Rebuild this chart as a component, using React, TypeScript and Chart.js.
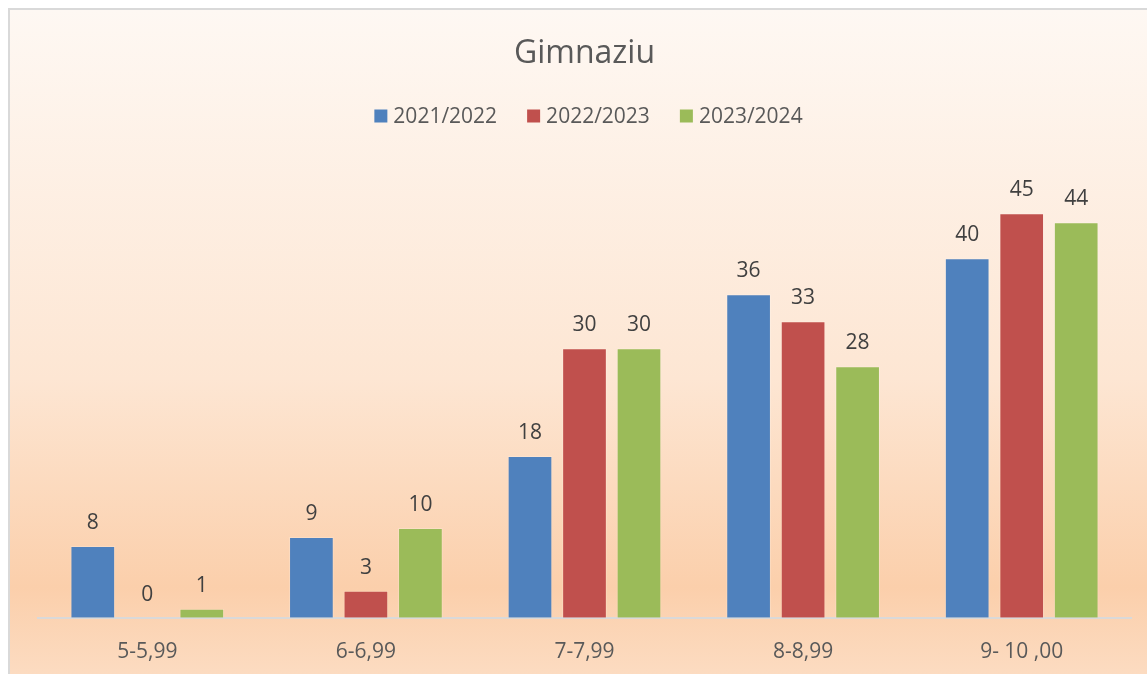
import React, { useEffect, useRef } from "react";
import { Chart, registerables } from "chart.js";

Chart.register(...registerables);

const categories = ["5-5,99", "6-6,99", "7-7,99", "8-8,99", "9- 10 ,00"];
const seriesNames = ["2021/2022", "2022/2023", "2023/2024"];
const values2021 = [8, 9, 18, 36, 40];
const values2022 = [0, 3, 30, 33, 45];
const values2023 = [1, 10, 30, 28, 44];
const seriesColors = ["#4f81bd", "#c0504d", "#9bbb59"];

const W = 1150;
const H = 666;
const FONT = "'Open Sans', 'Noto Sans', sans-serif";

const dataLabels = {
  id: "dataLabels",
  afterDatasetsDraw(chart: any) {
    const ctx = chart.ctx;
    ctx.save();
    ctx.font = `21px ${FONT}`;
    ctx.fillStyle = "#404040";
    ctx.textAlign = "center";
    ctx.textBaseline = "middle";
    chart.data.datasets.forEach((ds: any, i: number) => {
      const meta = chart.getDatasetMeta(i);
      meta.data.forEach((el: any, j: number) => {
        ctx.fillText(String(ds.data[j]), el.x, el.y - 23);
      });
    });
    ctx.restore();
  },
};

const customLegend = {
  id: "customLegend",
  afterDraw(chart: any) {
    const ctx = chart.ctx;
    const area = chart.chartArea;
    ctx.save();
    ctx.font = `21px ${FONT}`;
    ctx.textBaseline = "middle";
    ctx.textAlign = "left";
    const box = 13;
    const gapText = 19;
    const gapItem = 30;
    const widths = chart.data.datasets.map(
      (ds: any) => gapText + ctx.measureText(ds.label).width
    );
    const total =
      widths.reduce((a: number, b: number) => a + b, 0) +
      gapItem * (widths.length - 1);
    let x = (area.left + area.right) / 2 - total / 2 + 4;
    const y = 106;
    chart.data.datasets.forEach((ds: any, i: number) => {
      ctx.fillStyle = ds.backgroundColor;
      ctx.fillRect(x, y - box / 2, box, box);
      ctx.fillStyle = "#595959";
      ctx.fillText(ds.label, x + gapText, y + 1);
      x += widths[i] + gapItem;
    });
    ctx.restore();
  },
};

export default function App() {
  const ref = useRef<HTMLCanvasElement | null>(null);

  useEffect(() => {
    if (!ref.current) return;
    const allSeries = [values2021, values2022, values2023];
    const chart = new Chart(ref.current, {
      type: "bar",
      data: {
        labels: categories,
        datasets: allSeries.map((vals, i) => ({
          label: seriesNames[i],
          data: vals,
          backgroundColor: seriesColors[i],
          borderColor: "rgba(255,255,255,0.2)",
          borderWidth: 1,
          categoryPercentage: 0.748,
          barPercentage: 0.82,
        })),
      },
      options: {
        responsive: false,
        animation: false,
        layout: { padding: { left: 28, right: W - 1121, top: 0, bottom: -11 } },
        plugins: {
          legend: { display: false },
          tooltip: { enabled: false },
          title: {
            display: true,
            text: "Gimnaziu",
            color: "#595959",
            font: { family: FONT, size: 32, weight: "normal" },
            padding: { top: 25, bottom: 95 },
          },
        },
        scales: {
          x: {
            grid: { display: false, drawTicks: false },
            border: { display: true, color: "#d9d9d9", width: 2 },
            ticks: {
              color: "#595959",
              font: { family: FONT, size: 21 },
              padding: 22,
            },
          },
          y: {
            display: false,
            min: 0,
            max: 50,
          },
        },
      },
      plugins: [dataLabels, customLegend],
    });
    return () => chart.destroy();
  }, []);

  return (
    <div
      style={{
        position: "fixed",
        left: 8,
        top: 8,
        width: 1139,
        height: 666,
        overflow: "hidden",
      }}
    >
      <div
        style={{
          width: W,
          height: H + 30,
          border: "2px solid #d9d9d9",
          background:
            "linear-gradient(to bottom, #fef8f3 0%, #fde6d3 53%, #fbcfab 83%, #fcdcc2 96%, #fcdcc2 100%)",
        }}
      >
        <canvas ref={ref} width={W} height={H} style={{ display: "block" }} />
      </div>
    </div>
  );
}
